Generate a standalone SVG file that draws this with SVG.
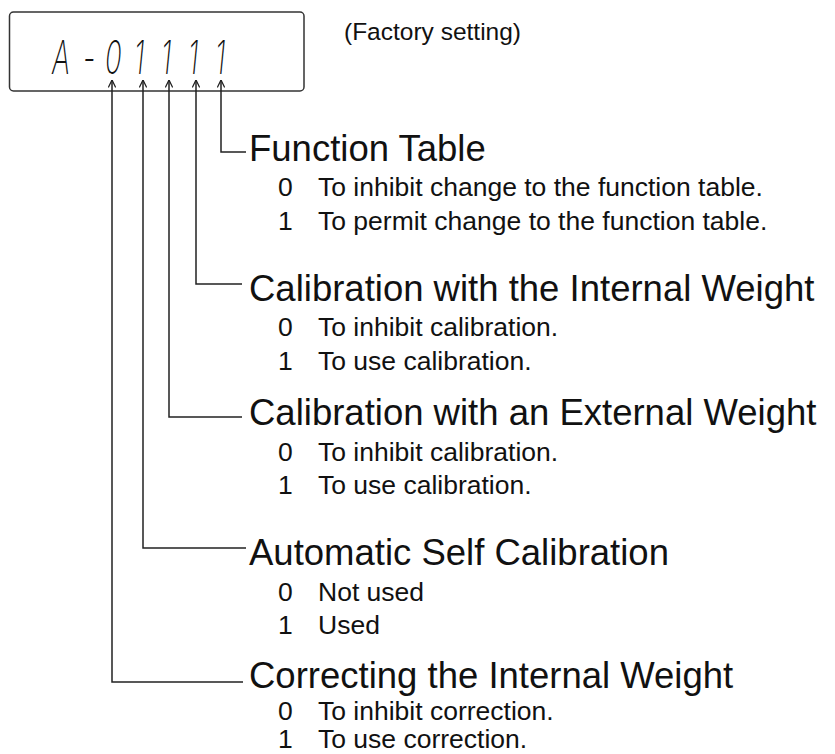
<svg xmlns="http://www.w3.org/2000/svg" width="835" height="754" viewBox="0 0 835 754">
<style>
.title{font-family:"Liberation Sans",Arial,sans-serif;font-size:36.5px;fill:#111}
.sub{font-family:"Liberation Sans",Arial,sans-serif;font-size:26.5px;fill:#111}
.note{font-family:"Liberation Sans",Arial,sans-serif;font-size:24.5px;fill:#111}
.seg{font-family:Inter,Lato,"DejaVu Sans",sans-serif;font-weight:200;font-style:italic;font-size:46px;fill:#111}
.conn{fill:none;stroke:#222;stroke-width:1.5}
</style>
<defs>
<marker id="arr" viewBox="0 0 8 8" refX="8" refY="4" markerWidth="8" markerHeight="8" markerUnits="userSpaceOnUse" orient="auto-start-reverse">
<path d="M0.5,0.3 L8,4 L0.5,7.7" fill="none" stroke="#222" stroke-width="1.3"/>
</marker>
</defs>
<rect width="835" height="754" fill="#fff"/>

<g id="display">
<rect x="9.5" y="12" width="294.5" height="79" rx="4" fill="none" stroke="#333" stroke-width="1.5"/>
<text class="seg" transform="translate(52,74) scale(0.6,1)">A</text>
<text class="seg" transform="translate(83,74) scale(0.6,1)">-</text>
<text class="seg" transform="translate(105,74) scale(0.6,1)">0</text>
<text class="seg" transform="translate(134,74) scale(0.6,1)">1</text>
<text class="seg" transform="translate(161,74) scale(0.6,1)">1</text>
<text class="seg" transform="translate(188,74) scale(0.6,1)">1</text>
<text class="seg" transform="translate(215,74) scale(0.6,1)">1</text>
</g>

<g id="factory-note">
<text class="note" x="344" y="40">(Factory setting)</text>
</g>

<g id="connectors">
<path class="conn" d="M221,80 V152 H246" marker-start="url(#arr)"/>
<path class="conn" d="M196,80 V284 H242" marker-start="url(#arr)"/>
<path class="conn" d="M169,80 V417 H242" marker-start="url(#arr)"/>
<path class="conn" d="M143,80 V548 H246" marker-start="url(#arr)"/>
<path class="conn" d="M112,80 V682 H243" marker-start="url(#arr)"/>
</g>

<g id="function-table">
<text class="title" x="249" y="161">Function Table</text>
<text class="sub" x="278" y="196">0</text><text class="sub" x="318" y="196">To inhibit change to the function table.</text>
<text class="sub" x="278" y="230">1</text><text class="sub" x="318" y="230">To permit change to the function table.</text>
</g>

<g id="cal-internal">
<text class="title" x="249" y="301">Calibration with the Internal Weight</text>
<text class="sub" x="278" y="336">0</text><text class="sub" x="318" y="336">To inhibit calibration.</text>
<text class="sub" x="278" y="370">1</text><text class="sub" x="318" y="370">To use calibration.</text>
</g>

<g id="cal-external">
<text class="title" x="249" y="425">Calibration with an External Weight</text>
<text class="sub" x="278" y="461">0</text><text class="sub" x="318" y="461">To inhibit calibration.</text>
<text class="sub" x="278" y="494">1</text><text class="sub" x="318" y="494">To use calibration.</text>
</g>

<g id="auto-self-cal">
<text class="title" x="249" y="565">Automatic Self Calibration</text>
<text class="sub" x="278" y="601">0</text><text class="sub" x="318" y="601">Not used</text>
<text class="sub" x="278" y="634">1</text><text class="sub" x="318" y="634">Used</text>
</g>

<g id="correcting">
<text class="title" x="249" y="688">Correcting the Internal Weight</text>
<text class="sub" x="278" y="720">0</text><text class="sub" x="318" y="720">To inhibit correction.</text>
<text class="sub" x="278" y="748">1</text><text class="sub" x="318" y="748">To use correction.</text>
</g>
</svg>
